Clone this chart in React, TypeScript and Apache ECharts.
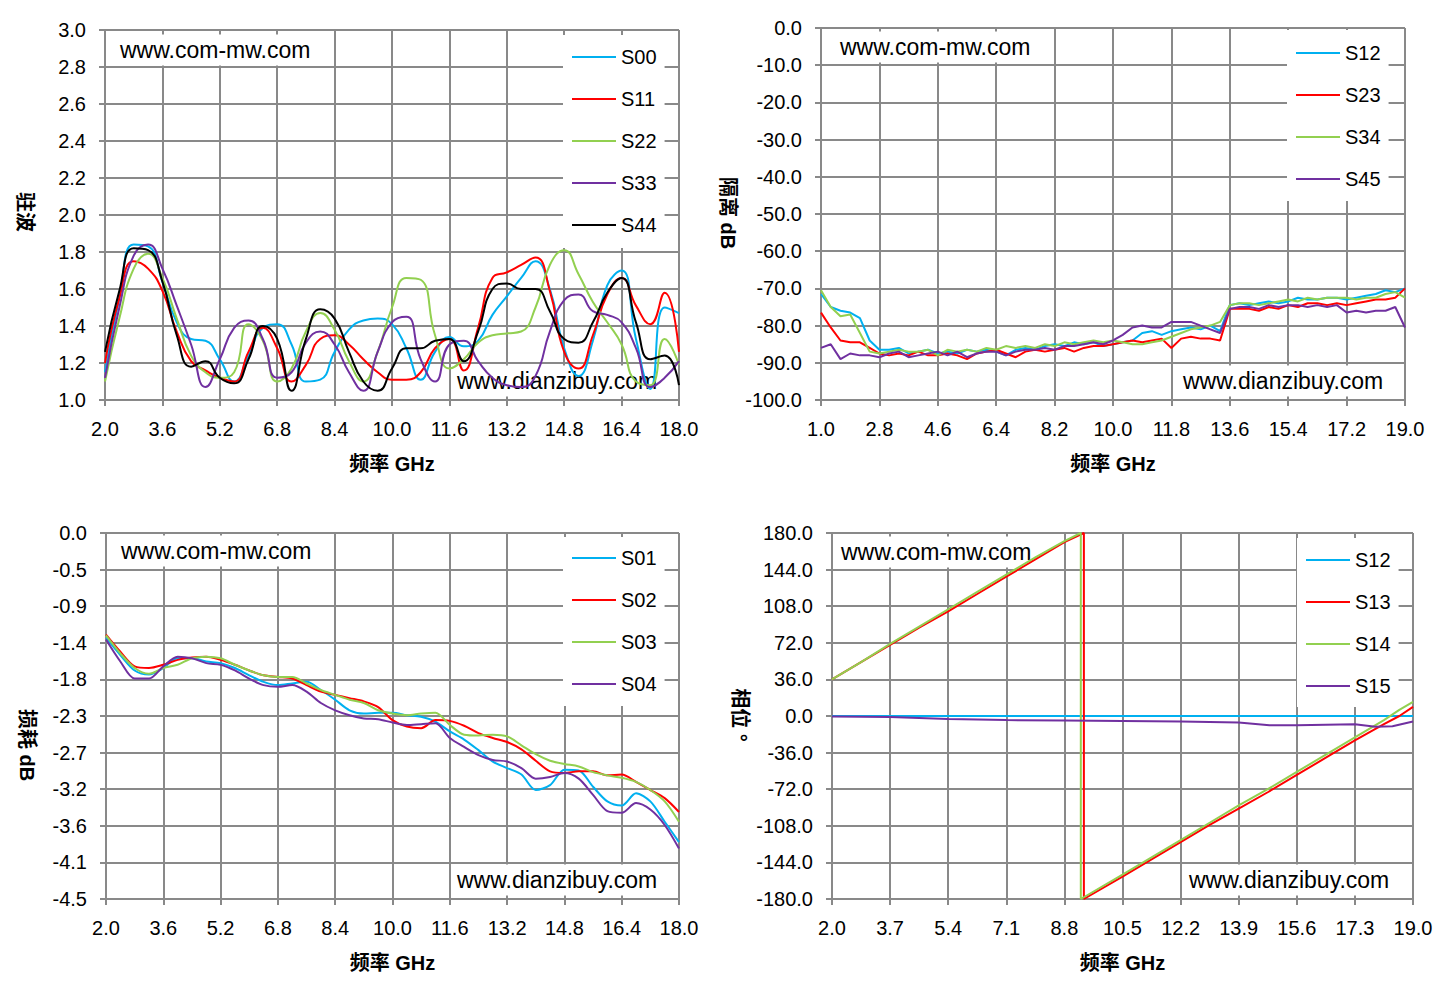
import React, { useEffect, useRef } from "react";
import * as echarts from "echarts";

const FONT = "'Liberation Sans', 'Noto Sans CJK SC', sans-serif";
const GRID_COLOR = "#898989";
const BLUE = "#00B0F0";
const RED = "#FF0000";
const GREEN = "#92D050";
const PURPLE = "#7030A0";
const BLACK = "#000000";

// ---------- Panel 1: VSWR (驻波) ----------
const vswrFreq = [
  2.0, 2.4, 2.8, 3.2, 3.6, 4.0, 4.4, 4.8, 5.2, 5.6,
  6.0, 6.4, 6.8, 7.2, 7.6, 8.0, 8.4, 8.8, 9.2, 9.6,
  10.0, 10.4, 10.8, 11.2, 11.6, 12.0, 12.4, 12.8, 13.2, 13.6,
  14.0, 14.4, 14.8, 15.2, 15.6, 16.0, 16.4, 16.8, 17.2, 17.6,
  18.0,
];
const vswrS00 = [
  1.15, 1.55, 1.84, 1.83, 1.64, 1.42, 1.33, 1.32, 1.22, 1.10,
  1.24, 1.39, 1.41, 1.30, 1.10, 1.11, 1.26, 1.38, 1.43, 1.44,
  1.41, 1.28, 1.11, 1.26, 1.34, 1.29, 1.32, 1.46, 1.56, 1.66,
  1.75, 1.60, 1.28, 1.13, 1.32, 1.62, 1.70, 1.33, 1.06, 1.50,
  1.47,
];
const vswrS11 = [
  1.20, 1.55, 1.75, 1.71, 1.59, 1.37, 1.21, 1.16, 1.12, 1.10,
  1.26, 1.39, 1.28, 1.10, 1.19, 1.33, 1.35, 1.30, 1.22, 1.15,
  1.11, 1.11, 1.15, 1.28, 1.33, 1.16, 1.39, 1.66, 1.69, 1.73,
  1.77, 1.59, 1.26, 1.17, 1.35, 1.57, 1.66, 1.51, 1.41, 1.58,
  1.26,
];
const vswrS22 = [
  1.10, 1.44, 1.71, 1.79, 1.66, 1.44, 1.24, 1.15, 1.12, 1.15,
  1.41, 1.32, 1.10, 1.17, 1.37, 1.47, 1.38, 1.21, 1.10, 1.26,
  1.50, 1.66, 1.65, 1.35, 1.17, 1.22, 1.31, 1.35, 1.36, 1.37,
  1.50, 1.73, 1.81, 1.68, 1.53, 1.42, 1.30, 1.10, 1.08, 1.33,
  1.19,
];
const vswrS33 = [
  1.12, 1.50, 1.78, 1.84, 1.71, 1.51, 1.30, 1.07, 1.22, 1.39,
  1.43, 1.33, 1.12, 1.15, 1.31, 1.37, 1.30, 1.15, 1.05, 1.26,
  1.42, 1.45, 1.22, 1.10, 1.30, 1.32, 1.21, 1.12, 1.08, 1.07,
  1.13, 1.37, 1.54, 1.57, 1.48, 1.46, 1.42, 1.28, 1.07, 1.12,
  1.21,
];
const vswrS44 = [
  1.26, 1.59, 1.82, 1.81, 1.64, 1.35, 1.18, 1.21, 1.12, 1.09,
  1.22, 1.40, 1.33, 1.05, 1.33, 1.49, 1.44, 1.26, 1.10, 1.05,
  1.17, 1.28, 1.28, 1.32, 1.33, 1.21, 1.37, 1.60, 1.63, 1.60,
  1.60, 1.48, 1.33, 1.31, 1.42, 1.58, 1.66, 1.42, 1.22, 1.24,
  1.08,
];

// ---------- Panel 2: isolation (隔离 dB) ----------
const isoFreq = [
  1.0, 1.3, 1.6, 1.9, 2.2, 2.5, 2.8, 3.1, 3.4, 3.7,
  4.0, 4.3, 4.6, 4.9, 5.2, 5.5, 5.8, 6.1, 6.4, 6.7,
  7.0, 7.3, 7.6, 7.9, 8.2, 8.5, 8.8, 9.1, 9.4, 9.7,
  10.0, 10.3, 10.6, 10.9, 11.2, 11.5, 11.8, 12.1, 12.4, 12.7,
  13.0, 13.3, 13.6, 13.9, 14.2, 14.5, 14.8, 15.1, 15.4, 15.7,
  16.0, 16.3, 16.6, 16.9, 17.2, 17.5, 17.8, 18.1, 18.4, 18.7,
  19.0,
];
const isoS12 = [
  -71.5, -75.0, -76.0, -76.5, -78.0, -84.0, -86.5, -86.5, -86.0, -87.5,
  -87.0, -86.5, -87.5, -87.0, -87.5, -86.5, -87.0, -86.5, -87.0, -88.0,
  -86.5, -86.0, -86.5, -85.5, -85.0, -85.5, -84.5, -85.0, -84.5, -85.5,
  -85.0, -84.5, -84.0, -82.0, -81.5, -82.5, -81.5, -81.0, -80.5, -81.0,
  -80.0, -81.5, -74.5, -74.0, -74.5, -74.0, -73.5, -74.0, -73.5, -72.5,
  -73.0, -73.0, -72.5, -72.5, -73.0, -72.5, -72.0, -71.5, -70.5, -71.0,
  -70.0,
];
const isoS23 = [
  -76.5, -80.5, -84.0, -84.5, -84.5, -86.0, -87.5, -88.0, -87.5, -88.0,
  -87.0, -88.0, -88.0, -87.5, -88.0, -89.0, -87.5, -87.0, -86.5, -87.5,
  -88.5, -87.0, -86.5, -87.0, -86.5, -86.0, -87.0, -86.0, -85.5, -85.5,
  -85.0, -84.5, -84.0, -84.5, -84.0, -83.5, -86.0, -83.5, -83.0, -83.5,
  -83.5, -84.0, -75.5, -75.5, -75.5, -76.0, -75.0, -75.5, -74.5, -75.0,
  -74.0, -74.0, -74.5, -74.0, -74.5, -74.0, -73.5, -73.0, -73.0, -72.5,
  -70.0,
];
const isoS34 = [
  -70.5, -75.0, -77.5, -77.0, -82.0, -87.0, -87.5, -87.0, -86.5, -87.0,
  -87.0, -86.5, -88.0, -86.5, -87.0, -86.5, -87.0, -86.0, -86.5, -85.5,
  -86.0, -85.5, -86.0, -85.0, -85.5, -84.5, -85.0, -84.5, -84.0, -84.5,
  -84.0, -84.5, -85.0, -85.0, -84.5, -84.0, -83.0, -82.0, -81.0, -80.5,
  -80.0, -79.0, -74.5, -74.0, -74.0, -74.5, -74.0, -73.5, -73.0, -73.5,
  -72.5, -73.0, -72.5, -72.5, -72.5, -73.0, -72.5, -72.5, -71.5, -71.0,
  -72.5,
];
const isoS45 = [
  -86.0, -85.0, -89.0, -87.5, -88.0, -88.0, -88.5, -87.5, -87.0, -88.5,
  -88.0, -87.5, -87.0, -88.0, -87.0, -88.5, -87.5, -87.0, -87.0, -88.0,
  -87.0, -86.5, -86.5, -86.0, -86.5, -85.5, -85.5, -85.0, -84.5, -85.0,
  -84.0, -82.5, -80.5, -80.0, -80.5, -80.5, -79.0, -79.0, -79.0, -80.0,
  -81.0, -82.0, -75.5, -75.0, -75.0, -75.5, -74.5, -75.0, -74.5, -74.5,
  -75.0, -74.5, -75.0, -74.5, -76.5, -76.0, -76.5, -76.0, -76.0, -75.0,
  -80.5,
];

// ---------- Panel 3: insertion loss (损耗 dB) ----------
const lossFreq = [
  2.0, 2.4, 2.8, 3.2, 3.6, 4.0, 4.4, 4.8, 5.2, 5.6,
  6.0, 6.4, 6.8, 7.2, 7.6, 8.0, 8.4, 8.8, 9.2, 9.6,
  10.0, 10.4, 10.8, 11.2, 11.6, 12.0, 12.4, 12.8, 13.2, 13.6,
  14.0, 14.4, 14.8, 15.2, 15.6, 16.0, 16.4, 16.8, 17.2, 17.6,
  18.0,
];
const lossS01 = [
  -1.29, -1.50, -1.69, -1.74, -1.66, -1.54, -1.54, -1.58, -1.60, -1.66,
  -1.75, -1.83, -1.87, -1.85, -1.83, -1.93, -2.05, -2.18, -2.22, -2.21,
  -2.21, -2.24, -2.26, -2.32, -2.44, -2.54, -2.67, -2.81, -2.89, -2.97,
  -3.16, -3.10, -2.91, -2.92, -3.12, -3.30, -3.35, -3.20, -3.30, -3.55,
  -3.80,
];
const lossS02 = [
  -1.25, -1.46, -1.64, -1.66, -1.62, -1.56, -1.53, -1.52, -1.56, -1.62,
  -1.69, -1.75, -1.77, -1.79, -1.87, -1.95, -1.99, -2.03, -2.07, -2.14,
  -2.30, -2.38, -2.40, -2.30, -2.31, -2.37, -2.46, -2.52, -2.57, -2.66,
  -2.80, -2.93, -2.95, -2.93, -2.93, -2.98, -2.97, -3.06, -3.16, -3.26,
  -3.43,
];
const lossS03 = [
  -1.26, -1.48, -1.66, -1.73, -1.66, -1.62, -1.54, -1.52, -1.54, -1.62,
  -1.69, -1.75, -1.77, -1.77, -1.85, -1.93, -1.99, -2.05, -2.09, -2.18,
  -2.22, -2.24, -2.22, -2.21, -2.36, -2.48, -2.49, -2.48, -2.50, -2.61,
  -2.72, -2.80, -2.84, -2.87, -2.94, -2.98, -3.01, -3.06, -3.16, -3.30,
  -3.55,
];
const lossS04 = [
  -1.31, -1.58, -1.79, -1.79, -1.64, -1.52, -1.54, -1.60, -1.62, -1.69,
  -1.79, -1.87, -1.89, -1.87, -1.95, -2.09, -2.18, -2.24, -2.28, -2.29,
  -2.33, -2.36, -2.35, -2.34, -2.52, -2.63, -2.73, -2.79, -2.81, -2.89,
  -3.02, -3.00, -2.95, -3.02, -3.22, -3.42, -3.44, -3.32, -3.40, -3.59,
  -3.88,
];
const lossYTicks = ["-4.5", "-4.1", "-3.6", "-3.2", "-2.7", "-2.3", "-1.8", "-1.4", "-0.9", "-0.5", "0.0"];

// ---------- Panel 4: phase (相位 °) as [GHz, degrees] ----------
const phaseS12: number[][] = [[2.0, 0], [10.5, 0], [19.0, 0]];
const phaseS13: number[][] = [
  [2.0, 36], [2.85, 53], [3.7, 70], [4.55, 87], [5.4, 103], [6.25, 120], [7.1, 137],
  [7.95, 154], [8.8, 171], [9.37, 180], [9.37, -180], [10.5, -158], [11.35, -141],
  [12.2, -124], [13.05, -107], [13.9, -91], [14.75, -75], [15.6, -58], [16.45, -41],
  [17.3, -24], [18.15, -8], [18.6, 0], [19.0, 9],
];
const phaseS14: number[][] = [
  [2.0, 36], [2.85, 53], [3.7, 71], [4.55, 88], [5.4, 105], [6.25, 122], [7.1, 139],
  [7.95, 156], [8.8, 172], [9.28, 180], [9.28, -180], [10.5, -156], [11.35, -139],
  [12.2, -122], [13.05, -105], [13.9, -88], [14.75, -72], [15.6, -55], [16.45, -38],
  [17.3, -21], [18.15, -4], [18.6, 6], [19.0, 14],
];
const phaseS15: number[][] = [
  [2.0, -0.5], [3.7, -1], [5.4, -3], [7.1, -4], [8.8, -4.5], [10.5, -5], [12.2, -5.5],
  [13.9, -6.5], [14.8, -9], [15.6, -9], [17.3, -8], [17.9, -10.5], [18.4, -10], [19.0, -5.5],
];

type Panel = {
  grid: { left: number; top: number; width: number; height: number };
  xMin: number; xMax: number; xStep: number;
  yMin: number; yMax: number; yStep: number;
  yFmt: (v: number) => string;
};

const panels: Panel[] = [
  { grid: { left: 105, top: 30, width: 574, height: 370 }, xMin: 2, xMax: 18, xStep: 1.6, yMin: 1, yMax: 3, yStep: 0.2, yFmt: (v) => v.toFixed(1) },
  { grid: { left: 821, top: 28, width: 584, height: 372 }, xMin: 1, xMax: 19, xStep: 1.8, yMin: -100, yMax: 0, yStep: 10, yFmt: (v) => v.toFixed(1) },
  { grid: { left: 106, top: 533, width: 573, height: 366 }, xMin: 2, xMax: 18, xStep: 1.6, yMin: -4.5, yMax: 0, yStep: 0.45, yFmt: (v) => lossYTicks[Math.round((v + 4.5) / 0.45)] ?? "" },
  { grid: { left: 832, top: 533, width: 581, height: 366 }, xMin: 2, xMax: 19, xStep: 1.7, yMin: -180, yMax: 180, yStep: 36, yFmt: (v) => v.toFixed(1) },
];

function lineSeries(name: string, color: string, pts: number[][], gi: number, smooth: boolean | number) {
  const xMin = panels[gi].xMin;
  return {
    type: "line",
    name,
    xAxisIndex: gi,
    yAxisIndex: gi,
    data: pts.map(([x, y]) => [x - xMin, y]),
    symbol: "none",
    showSymbol: false,
    smooth,
    color,
    lineStyle: { color, width: 2 },
    itemStyle: { color },
    z: 2,
  };
}
const zip = (xs: number[], ys: number[]) => xs.map((x, i) => [x, ys[i]]);

function buildOption() {
  const grid = panels.map((p) => ({ ...p.grid, show: false, containLabel: false, outerBoundsMode: "none" }));
  const lineCommon = { color: GRID_COLOR, width: 2 };
  const labelCommon = { color: "#000", fontSize: 20, fontFamily: FONT };
  const xAxis = panels.map((p, i) => ({
    type: "value",
    gridIndex: i,
    min: 0,
    max: p.xMax - p.xMin,
    interval: p.xStep,
    axisLine: { show: true, onZero: false, lineStyle: lineCommon },
    axisTick: { show: true, length: 6, lineStyle: lineCommon },
    splitLine: { show: true, lineStyle: lineCommon },
    axisLabel: { ...labelCommon, margin: 19, formatter: (v: number) => (v + p.xMin).toFixed(1) },
    name: "频率 GHz",
    nameLocation: "middle",
    nameGap: 54,
    nameTextStyle: { color: "#000", fontSize: 20, fontWeight: "bold", fontFamily: FONT },
  }));
  const yAxis = panels.map((p, i) => ({
    type: "value",
    gridIndex: i,
    min: p.yMin,
    max: p.yMax,
    interval: p.yStep,
    axisLine: { show: true, onZero: false, lineStyle: lineCommon },
    axisTick: { show: true, length: 6, lineStyle: lineCommon },
    splitLine: { show: true, lineStyle: lineCommon },
    axisLabel: { ...labelCommon, margin: 19, formatter: p.yFmt },
  }));

  const series = [
    lineSeries("S00", BLUE, zip(vswrFreq, vswrS00), 0, true),
    lineSeries("S11", RED, zip(vswrFreq, vswrS11), 0, true),
    lineSeries("S22", GREEN, zip(vswrFreq, vswrS22), 0, true),
    lineSeries("S33", PURPLE, zip(vswrFreq, vswrS33), 0, true),
    lineSeries("S44", BLACK, zip(vswrFreq, vswrS44), 0, true),
    lineSeries("S12", BLUE, zip(isoFreq, isoS12), 1, false),
    lineSeries("S23", RED, zip(isoFreq, isoS23), 1, false),
    lineSeries("S34", GREEN, zip(isoFreq, isoS34), 1, false),
    lineSeries("S45", PURPLE, zip(isoFreq, isoS45), 1, false),
    lineSeries("S01", BLUE, zip(lossFreq, lossS01), 2, 0.3),
    lineSeries("S02", RED, zip(lossFreq, lossS02), 2, 0.3),
    lineSeries("S03", GREEN, zip(lossFreq, lossS03), 2, 0.3),
    lineSeries("S04", PURPLE, zip(lossFreq, lossS04), 2, 0.3),
    lineSeries("S12", BLUE, phaseS12, 3, false),
    lineSeries("S13", RED, phaseS13, 3, false),
    lineSeries("S14", GREEN, phaseS14, 3, false),
    lineSeries("S15", PURPLE, phaseS15, 3, false),
  ];

  const legendBase = {
    orient: "vertical",
    icon: "rect",
    itemWidth: 44,
    itemHeight: 2,
    itemGap: 22,
    backgroundColor: "#ffffff",
    selectedMode: false,
    textStyle: { color: "#000", fontSize: 20, fontFamily: FONT, lineHeight: 20 },
    z: 6,
  };
  const legend = [
    { ...legendBase, data: ["S00", "S11", "S22", "S33", "S44"], left: 563, top: 35, padding: [12, 8, 13, 9] },
    { ...legendBase, data: ["S12", "S23", "S34", "S45"], left: 1287, top: 30, padding: [13, 8, 12, 9] },
    { ...legendBase, data: ["S01", "S02", "S03", "S04"], left: 563, top: 537, padding: [11, 8, 12, 9] },
    { ...legendBase, data: ["S12", "S13", "S14", "S15"], left: 1297, top: 538, padding: [12, 8, 11, 9] },
  ];

  const yTitle = (x: number, y: number, text: string) => ({
    type: "text",
    x,
    y,
    rotation: -Math.PI / 2,
    z: 5,
    style: {
      text,
      fill: "#000",
      fontSize: 20,
      fontWeight: "bold",
      fontFamily: FONT,
      align: "center",
      verticalAlign: "middle",
      textAlign: "center",
      textVerticalAlign: "middle",
    },
  });
  const mark = (left: number, cy: number, text: string) => ({
    type: "text",
    x: left - 6,
    y: cy,
    z: 1,
    style: {
      text,
      fill: "#000",
      fontSize: 23,
      fontFamily: FONT,
      align: "left",
      verticalAlign: "middle",
      textAlign: "left",
      textVerticalAlign: "middle",
      backgroundColor: "#ffffff",
      padding: [4, 6],
    },
  });

  const graphic = [
    yTitle(25, 212, "驻波"),
    yTitle(728, 213, "隔离 dB"),
    yTitle(27, 745, "损耗 dB"),
    yTitle(740, 715, "相位 °"),
    mark(120, 50, "www.com-mw.com"),
    mark(457, 381, "www.dianzibuy.com"),
    mark(840, 47, "www.com-mw.com"),
    mark(1183, 381, "www.dianzibuy.com"),
    mark(121, 551, "www.com-mw.com"),
    mark(457, 880, "www.dianzibuy.com"),
    mark(841, 552, "www.com-mw.com"),
    mark(1189, 880, "www.dianzibuy.com"),
  ];

  return {
    animation: false,
    backgroundColor: "#ffffff",
    textStyle: { fontFamily: FONT },
    grid,
    xAxis,
    yAxis,
    legend,
    graphic,
    series,
  };
}

export default function App() {
  const ref = useRef<HTMLDivElement>(null);
  useEffect(() => {
    if (!ref.current) return;
    const chart = echarts.init(ref.current, null, { renderer: "svg" });
    chart.setOption(buildOption() as any);
    return () => chart.dispose();
  }, []);
  return (
    <div
      ref={ref}
      style={{ position: "absolute", left: 0, top: 0, width: 1445, height: 993, background: "#fff" }}
    />
  );
}
